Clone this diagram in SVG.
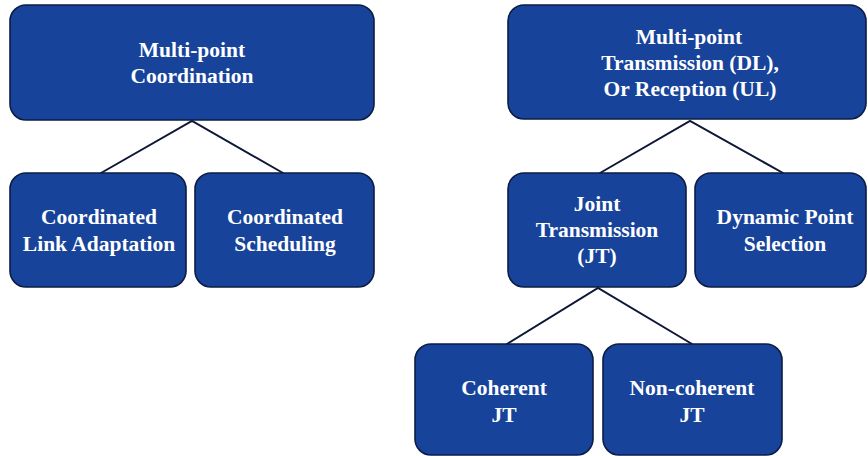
<svg xmlns="http://www.w3.org/2000/svg" width="868" height="456" viewBox="0 0 868 456" font-family="Liberation Serif, Times New Roman, serif">
  <style>
    .box { fill: #17439a; stroke: #0c1c44; stroke-width: 1.6; }
    .lbl { font-weight: 700; font-size: 21.5px; fill: #ffffff; text-anchor: middle; }
    .edge { stroke: #0e1836; stroke-width: 2; fill: none; stroke-linecap: round; }
  </style>
  <rect width="868" height="456" fill="#ffffff"/>

  <!-- tree connectors -->
  <g id="connectors">
    <path class="edge" d="M101 173 L192 121 L283 173"/>
    <path class="edge" d="M600 173 L690 121 L783 173"/>
    <path class="edge" d="M507 344 L598 288 L692 344"/>
  </g>

  <!-- left tree -->
  <g id="multipoint-coordination">
    <rect class="box" x="10" y="5" width="364" height="115" rx="16"/>
    <text class="lbl" x="192" y="57">Multi-point</text>
    <text class="lbl" x="192" y="83">Coordination</text>
  </g>
  <g id="coordinated-link-adaptation">
    <rect class="box" x="10" y="173" width="176" height="114" rx="16"/>
    <text class="lbl" x="99" y="224">Coordinated</text>
    <text class="lbl" x="99" y="251">Link Adaptation</text>
  </g>
  <g id="coordinated-scheduling">
    <rect class="box" x="195" y="173" width="179" height="114" rx="16"/>
    <text class="lbl" x="285" y="224">Coordinated</text>
    <text class="lbl" x="285" y="251">Scheduling</text>
  </g>

  <!-- right tree -->
  <g id="multipoint-transmission">
    <rect class="box" x="508" y="5" width="358" height="114" rx="16"/>
    <text class="lbl" x="689" y="44">Multi-point</text>
    <text class="lbl" x="690" y="70">Transmission (DL),</text>
    <text class="lbl" x="690" y="96">Or Reception (UL)</text>
  </g>
  <g id="joint-transmission">
    <rect class="box" x="508" y="173" width="178" height="114" rx="16"/>
    <text class="lbl" x="597" y="211">Joint</text>
    <text class="lbl" x="597" y="237">Transmission</text>
    <text class="lbl" x="597" y="263">(JT)</text>
  </g>
  <g id="dynamic-point-selection">
    <rect class="box" x="695" y="173" width="171" height="114" rx="16"/>
    <text class="lbl" x="785" y="224">Dynamic Point</text>
    <text class="lbl" x="785" y="251">Selection</text>
  </g>
  <g id="coherent-jt">
    <rect class="box" x="415" y="344" width="178" height="111" rx="16"/>
    <text class="lbl" x="504" y="395">Coherent</text>
    <text class="lbl" x="504" y="422">JT</text>
  </g>
  <g id="non-coherent-jt">
    <rect class="box" x="603" y="344" width="179" height="111" rx="16"/>
    <text class="lbl" x="692" y="395">Non-coherent</text>
    <text class="lbl" x="692" y="422">JT</text>
  </g>
</svg>
